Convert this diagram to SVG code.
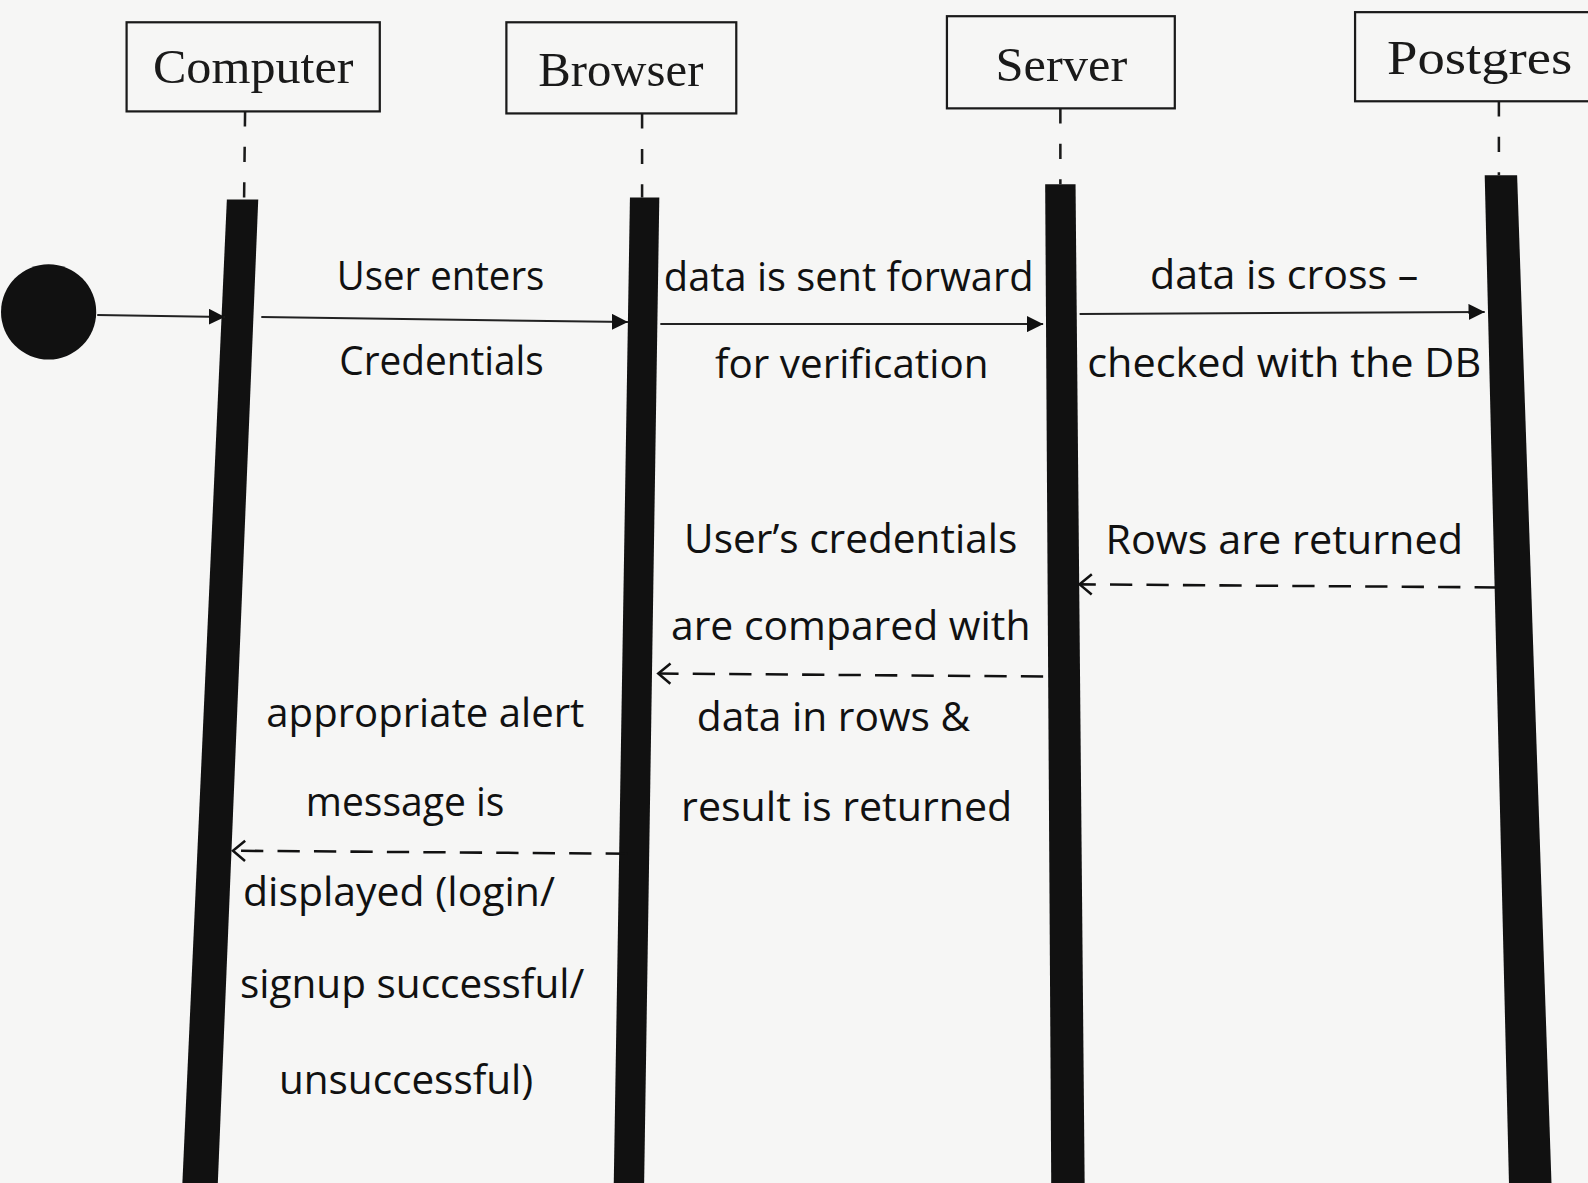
<svg xmlns="http://www.w3.org/2000/svg" width="1588" height="1183" viewBox="0 0 1588 1183">
<style>
.bg{fill:#f6f6f5}
.box{fill:none;stroke:#1a1a1a;stroke-width:2.2}
.hdr{font-family:"Liberation Serif","Times New Roman",serif;font-size:48px;fill:#1a1a1a;text-anchor:middle}
.lbl{font-family:"Open Sans","Noto Sans",sans-serif;font-size:39px;fill:#111;text-anchor:middle}
.life{stroke:#1a1a1a;stroke-width:2.5;stroke-dasharray:15,20;fill:none}
.bar{fill:#111}
.msg{stroke:#222;stroke-width:2;fill:none}
.ret{stroke:#111;stroke-width:2.5;fill:none;stroke-dasharray:22,14}
</style>
<defs>
<marker id="fill" viewBox="0 0 16 16" refX="16" refY="8" markerWidth="16" markerHeight="16" markerUnits="userSpaceOnUse" orient="auto">
<path d="M0,0 L16,8 L0,16 z" fill="#111"/>
</marker>
<marker id="open" viewBox="0 0 16 24" refX="14" refY="12" markerWidth="16" markerHeight="24" markerUnits="userSpaceOnUse" orient="auto">
<path d="M2,2 L14,12 L2,22" fill="none" stroke="#111" stroke-width="2.5"/>
</marker>
</defs>
<rect class="bg" x="0" y="0" width="1588" height="1183"/>
<g transform="scale(1.01276)">
<g id="computer">
<rect class="box" x="125" y="22" width="250" height="88"/>
<text class="hdr" x="250" y="82" textLength="198" lengthAdjust="spacingAndGlyphs">Computer</text>
<line class="life" x1="242" y1="110" x2="241" y2="197"/>
<polygon class="bar" points="224,197 255,197 215,1170 180,1170"/>
</g>

<g id="browser">
<rect class="box" x="500" y="22" width="227" height="90"/>
<text class="hdr" x="613" y="85" textLength="163" lengthAdjust="spacingAndGlyphs">Browser</text>
<line class="life" x1="634" y1="112" x2="634" y2="195"/>
<polygon class="bar" points="622,195 651,195 636,1170 606,1170"/>
</g>

<g id="server">
<rect class="box" x="935" y="16" width="225" height="91"/>
<text class="hdr" x="1048" y="80" textLength="130" lengthAdjust="spacingAndGlyphs">Server</text>
<line class="life" x1="1047" y1="107" x2="1047" y2="182"/>
<polygon class="bar" points="1032,182 1062,182 1071,1170 1038,1170"/>
</g>

<g id="postgres">
<rect class="box" x="1338" y="12" width="240" height="88"/>
<text class="hdr" x="1461" y="73" textLength="183" lengthAdjust="spacingAndGlyphs">Postgres</text>
<line class="life" x1="1480" y1="100" x2="1480" y2="173"/>
<polygon class="bar" points="1466,173 1498,173 1532,1170 1490,1170"/>
</g>

<g id="start">
<circle cx="48" cy="308" r="47" fill="#111"/>
</g>

<g id="connectors">
<line class="msg" x1="96" y1="311" x2="222" y2="313" marker-end="url(#fill)"/>
<line class="msg" x1="258" y1="313" x2="620" y2="318" marker-end="url(#fill)"/>
<line class="msg" x1="652" y1="320" x2="1030" y2="320" marker-end="url(#fill)"/>
<line class="msg" x1="1066" y1="310" x2="1466" y2="308" marker-end="url(#fill)"/>
<line class="ret" x1="1478" y1="580" x2="1066" y2="577" marker-end="url(#open)"/>
<line class="ret" x1="1030" y1="668" x2="650" y2="665" marker-end="url(#open)"/>
<line class="ret" x1="620" y1="843" x2="230" y2="840" marker-end="url(#open)"/>
</g>

<g id="labels">
<text class="lbl" x="435" y="286" textLength="205" lengthAdjust="spacingAndGlyphs">User enters</text>
<text class="lbl" x="436" y="370" textLength="202" lengthAdjust="spacingAndGlyphs">Credentials</text>
<text class="lbl" x="838" y="287" textLength="365" lengthAdjust="spacingAndGlyphs">data is sent forward</text>
<text class="lbl" x="841" y="373" textLength="270" lengthAdjust="spacingAndGlyphs">for verification</text>
<text class="lbl" x="1268" y="285" textLength="265" lengthAdjust="spacingAndGlyphs">data is cross –</text>
<text class="lbl" x="1268" y="372" textLength="389" lengthAdjust="spacingAndGlyphs">checked with the DB</text>
<text class="lbl" x="840" y="546" textLength="329" lengthAdjust="spacingAndGlyphs">User’s credentials</text>
<text class="lbl" x="1268" y="547" textLength="353" lengthAdjust="spacingAndGlyphs">Rows are returned</text>
<text class="lbl" x="840" y="632" textLength="355" lengthAdjust="spacingAndGlyphs">are compared with</text>
<text class="lbl" x="823" y="722" textLength="270" lengthAdjust="spacingAndGlyphs">data in rows &amp;</text>
<text class="lbl" x="836" y="811" textLength="327" lengthAdjust="spacingAndGlyphs">result is returned</text>
<text class="lbl" x="420" y="718" textLength="314" lengthAdjust="spacingAndGlyphs">appropriate alert</text>
<text class="lbl" x="400" y="806" textLength="196" lengthAdjust="spacingAndGlyphs">message is</text>
<text class="lbl" x="394" y="895" textLength="308" lengthAdjust="spacingAndGlyphs">displayed (login/</text>
<text class="lbl" x="407" y="985" textLength="340" lengthAdjust="spacingAndGlyphs">signup successful/</text>
<text class="lbl" x="401" y="1080" textLength="251" lengthAdjust="spacingAndGlyphs">unsuccessful)</text>
</g>
</g>
</svg>
